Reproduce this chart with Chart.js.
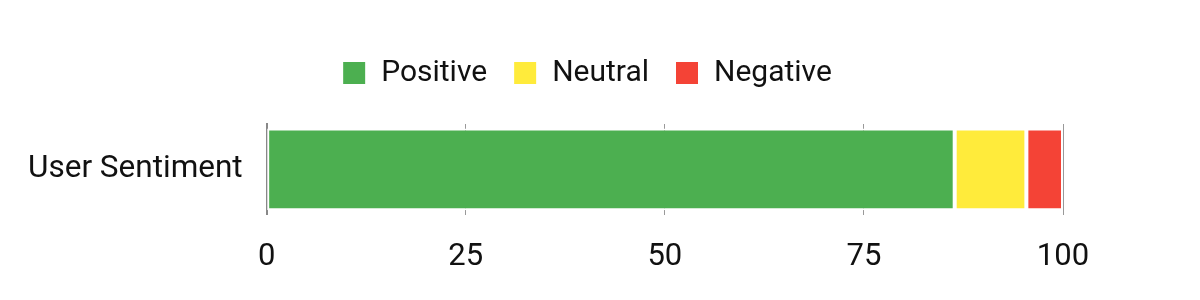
<!DOCTYPE html>
<html>
<head>
<meta charset="utf-8">
<script src="https://cdn.jsdelivr.net/npm/chart.js@4"></script>
<style>
  html, body { margin: 0; padding: 0; background: #fff; }
  #wrap { width: 1200px; height: 300px; }
</style>
</head>
<body>
<div id="wrap"><canvas id="sentimentChart"></canvas></div>
<script>
// Chart data
const categories = ['User Sentiment'];
const seriesNames = ['Positive', 'Neutral', 'Negative'];
const positiveValues = [86.4];
const neutralValues = [9];
const negativeValues = [4.6];
const seriesColors = ['#4CAF50', '#FFEB3B', '#F44336'];

const seriesValues = [positiveValues, neutralValues, negativeValues];

// Extra gap between the legend and the bars
const legendGap = {
    id: 'legendGap',
    beforeInit(chart) {
        const origFit = chart.legend.fit;
        chart.legend.fit = function() {
            origFit.bind(chart.legend)();
            this.height += 26;
        };
    }
};

const ctx = document.getElementById('sentimentChart').getContext('2d');

new Chart(ctx, {
    type: 'bar',
    data: {
        labels: categories,
        datasets: seriesNames.map((name, i) => ({
            label: name,
            data: seriesValues[i],
            backgroundColor: seriesColors[i],
            borderColor: '#ffffff',
            borderWidth: 2,
            borderSkipped: false,
            barPercentage: 0.9,
            categoryPercentage: 1
        }))
    },
    options: {
        indexAxis: 'y',
        responsive: true,
        maintainAspectRatio: false,
        animation: false,
        layout: {
            padding: { top: 32, right: 30, bottom: 0, left: 4 }
        },
        plugins: {
            legend: {
                display: true,
                position: 'top',
                labels: {
                    boxWidth: 24,
                    boxHeight: 24,
                    padding: 26,
                    color: '#111',
                    font: { family: 'Roboto', size: 30 }
                }
            },
            tooltip: { enabled: false }
        },
        scales: {
            x: {
                stacked: true,
                min: 0,
                max: 100,
                afterFit: function(scale) {
                    scale.paddingRight = 137;
                },
                ticks: {
                    stepSize: 25,
                    color: '#111',
                    padding: 24,
                    font: { family: 'Roboto', size: 31 }
                },
                grid: {
                    color: '#999',
                    drawTicks: false
                },
                border: { display: false }
            },
            y: {
                stacked: true,
                ticks: {
                    color: '#111',
                    padding: 24,
                    font: { family: 'Roboto', size: 31.5 }
                },
                grid: { display: false, drawTicks: false },
                border: { display: true, color: '#888', width: 2 }
            }
        }
    },
    plugins: [legendGap]
});
</script>
</body>
</html>
